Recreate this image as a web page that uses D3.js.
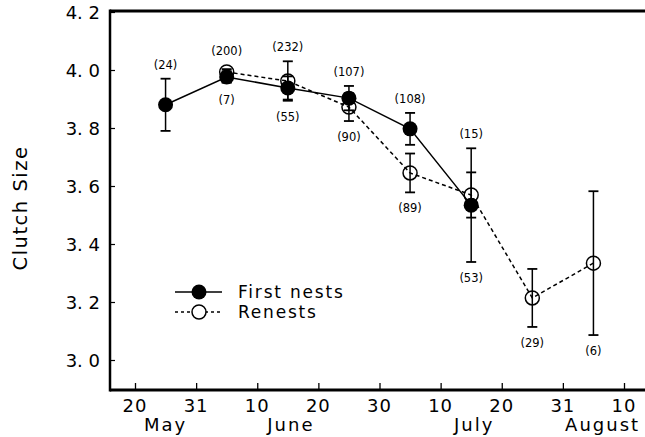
<!DOCTYPE html>
<html>
<head>
<meta charset="utf-8">
<script src="https://cdn.jsdelivr.net/npm/d3@7"></script>
<style>
  body { margin: 0; background: #fff; }
  text { font-family: "DejaVu Sans", sans-serif; fill: #000; }
</style>
</head>
<body>
<div id="chart"></div>
<script>
// x values: days counted from May 20 on an evenly spaced 10-day axis
const tickValues = [0, 10, 20, 30, 40, 50, 60, 70, 80];
const tickLabels = ["20", "31", "10", "20", "30", "10", "20", "31", "10"];
const months = [
    { name: "May", at: 5 },
    { name: "June", at: 25.5 },
    { name: "July", at: 55.5 },
    { name: "August", at: 76.5 }
];
const yTicks = [3.0, 3.2, 3.4, 3.6, 3.8, 4.0, 4.2];
const yTickLabels = ["3. 0", "3. 2", "3. 4", "3. 6", "3. 8", "4. 0", "4. 2"];

// First nests
const firstX = [5, 15, 25, 35, 45, 55];
const firstMean = [3.88, 3.976, 3.938, 3.903, 3.797, 3.534];
const firstErr = [0.09, 0.02, 0.04, 0.042, 0.055, 0.196];
const firstN = [24, 200, 232, 107, 108, 15];

// Renests
const reX = [15, 25, 35, 45, 55, 65, 75];
const reMean = [3.993, 3.962, 3.872, 3.645, 3.569, 3.214, 3.334];
const reErr = [0.01, 0.068, 0.048, 0.067, 0.078, 0.1, 0.248];
const reN = [7, 55, 90, 89, 53, 29, 6];

const W = 645, H = 437;
const plotLeft = 110, plotTop = 11, plotBottom = 390, plotRight = 645;

const svg = d3.select("#chart").append("svg")
    .attr("width", W)
    .attr("height", H);

const x = d3.scaleLinear().domain([0, 80]).range([135, 624]);
const y = d3.scaleLinear().domain([3.0, 4.2]).range([360, 12]);

// frame: top line, left and bottom axis
svg.append("line").attr("x1", plotLeft).attr("x2", plotRight).attr("y1", plotTop).attr("y2", plotTop)
    .attr("stroke", "#000").attr("stroke-width", 3);

const yAxis = svg.append("g")
    .attr("transform", "translate(" + plotLeft + ",0)")
    .call(d3.axisRight(y).tickValues(yTicks).tickSize(5).tickFormat(""));
yAxis.select(".domain").remove();
yAxis.selectAll("line").attr("stroke-width", 1.2);
svg.append("line").attr("x1", plotLeft).attr("x2", plotLeft).attr("y1", plotTop - 1.5).attr("y2", plotBottom + 1.5)
    .attr("stroke", "#000").attr("stroke-width", 2.5);

svg.selectAll(".ylab")
    .data(yTicks)
    .enter()
    .append("text")
    .attr("class", "ylab")
    .attr("x", 100)
    .attr("y", d => y(d) + 6.5)
    .attr("text-anchor", "end")
    .style("font-size", "18px")
    .text((d, i) => yTickLabels[i]);

const xAxis = svg.append("g")
    .attr("transform", "translate(0," + plotBottom + ")")
    .call(d3.axisTop(x).tickValues(tickValues).tickSize(7).tickFormat(""));
xAxis.select(".domain").remove();
xAxis.selectAll("line").attr("stroke-width", 1.3);
svg.append("line").attr("x1", plotLeft).attr("x2", plotRight).attr("y1", plotBottom).attr("y2", plotBottom)
    .attr("stroke", "#000").attr("stroke-width", 3);

svg.selectAll(".xlab")
    .data(tickValues)
    .enter()
    .append("text")
    .attr("class", "xlab")
    .attr("x", d => x(d))
    .attr("y", 412)
    .attr("text-anchor", "middle")
    .style("font-size", "18px")
    .style("letter-spacing", "1px")
    .text((d, i) => tickLabels[i]);

svg.selectAll(".month")
    .data(months)
    .enter()
    .append("text")
    .attr("class", "month")
    .attr("x", d => x(d.at))
    .attr("y", 431)
    .attr("text-anchor", "middle")
    .style("font-size", "18px")
    .style("letter-spacing", "2px")
    .text(d => d.name);

// y axis title
svg.append("text")
    .attr("transform", "translate(27,208) rotate(-90)")
    .attr("text-anchor", "middle")
    .style("font-size", "19.5px")
    .style("letter-spacing", "1.5px")
    .text("Clutch Size");

const first = firstX.map((d, i) => ({ x: d, m: firstMean[i], e: firstErr[i], n: firstN[i] }));
const re = reX.map((d, i) => ({ x: d, m: reMean[i], e: reErr[i], n: reN[i] }));

const line = d3.line().x(d => x(d.x)).y(d => y(d.m));

// error bars
function errorBars(data, cls) {
    const g = svg.append("g").attr("class", cls);
    g.selectAll(".v").data(data).enter().append("line")
        .attr("x1", d => x(d.x)).attr("x2", d => x(d.x))
        .attr("y1", d => y(d.m - d.e)).attr("y2", d => y(d.m + d.e))
        .attr("stroke", "#000").attr("stroke-width", 1.5);
    [1, -1].forEach(s => {
        g.selectAll(".c" + s).data(data).enter().append("line")
            .attr("x1", d => x(d.x) - 5).attr("x2", d => x(d.x) + 5)
            .attr("y1", d => y(d.m + s * d.e)).attr("y2", d => y(d.m + s * d.e))
            .attr("stroke", "#000").attr("stroke-width", 1.8);
    });
}
errorBars(re, "err-re");
errorBars(first, "err-first");

svg.append("path").datum(re).attr("d", line)
    .attr("fill", "none").attr("stroke", "#000").attr("stroke-width", 1.5)
    .attr("stroke-dasharray", "4,3");
svg.append("path").datum(first).attr("d", line)
    .attr("fill", "none").attr("stroke", "#000").attr("stroke-width", 1.5);

svg.selectAll(".re-pt").data(re).enter().append("circle")
    .attr("cx", d => x(d.x)).attr("cy", d => y(d.m)).attr("r", 7)
    .attr("fill", "none").attr("stroke", "#000").attr("stroke-width", 1.5);
svg.selectAll(".first-pt").data(first).enter().append("circle")
    .attr("cx", d => x(d.x)).attr("cy", d => y(d.m)).attr("r", 7.5)
    .attr("fill", "#000");

// sample sizes: first nests above, renests below
svg.selectAll(".n-first").data(first).enter().append("text")
    .attr("x", d => x(d.x))
    .attr("y", d => {
        const r = re.find(q => q.x === d.x);
        let py = Math.min(y(d.m + d.e), y(d.m) - 7.5);
        if (r) py = Math.min(py, y(r.m + r.e), y(r.m) - 7);
        return py - 10;
    })
    .attr("text-anchor", "middle")
    .style("font-size", "11.5px")
    .text(d => "(" + d.n + ")");
svg.selectAll(".n-re").data(re).enter().append("text")
    .attr("x", d => x(d.x))
    .attr("y", d => {
        const f = first.find(q => q.x === d.x);
        let py = Math.max(y(d.m - d.e), y(d.m) + 7);
        if (f) py = Math.max(py, y(f.m - f.e), y(f.m) + 7.5);
        return py + 20;
    })
    .attr("text-anchor", "middle")
    .style("font-size", "11.5px")
    .text(d => "(" + d.n + ")");

// legend
const legend = svg.append("g").attr("transform", "translate(175,292)");
legend.append("line").attr("x1", 0).attr("x2", 47).attr("y1", 0).attr("y2", 0)
    .attr("stroke", "#000").attr("stroke-width", 1.5);
legend.append("circle").attr("cx", 24).attr("cy", 0).attr("r", 7.5).attr("fill", "#000");
legend.append("line").attr("x1", 0).attr("x2", 47).attr("y1", 20).attr("y2", 20)
    .attr("stroke", "#000").attr("stroke-width", 1.5).attr("stroke-dasharray", "3,3");
legend.append("circle").attr("cx", 24).attr("cy", 20).attr("r", 7)
    .attr("fill", "#fff").attr("stroke", "#000").attr("stroke-width", 1.5);
legend.append("text").attr("x", 63).attr("y", 6).style("font-size", "17px")
    .style("letter-spacing", "1.8px").text("First nests");
legend.append("text").attr("x", 63).attr("y", 26).style("font-size", "17px")
    .style("letter-spacing", "1.8px").text("Renests");
</script>
</body>
</html>
